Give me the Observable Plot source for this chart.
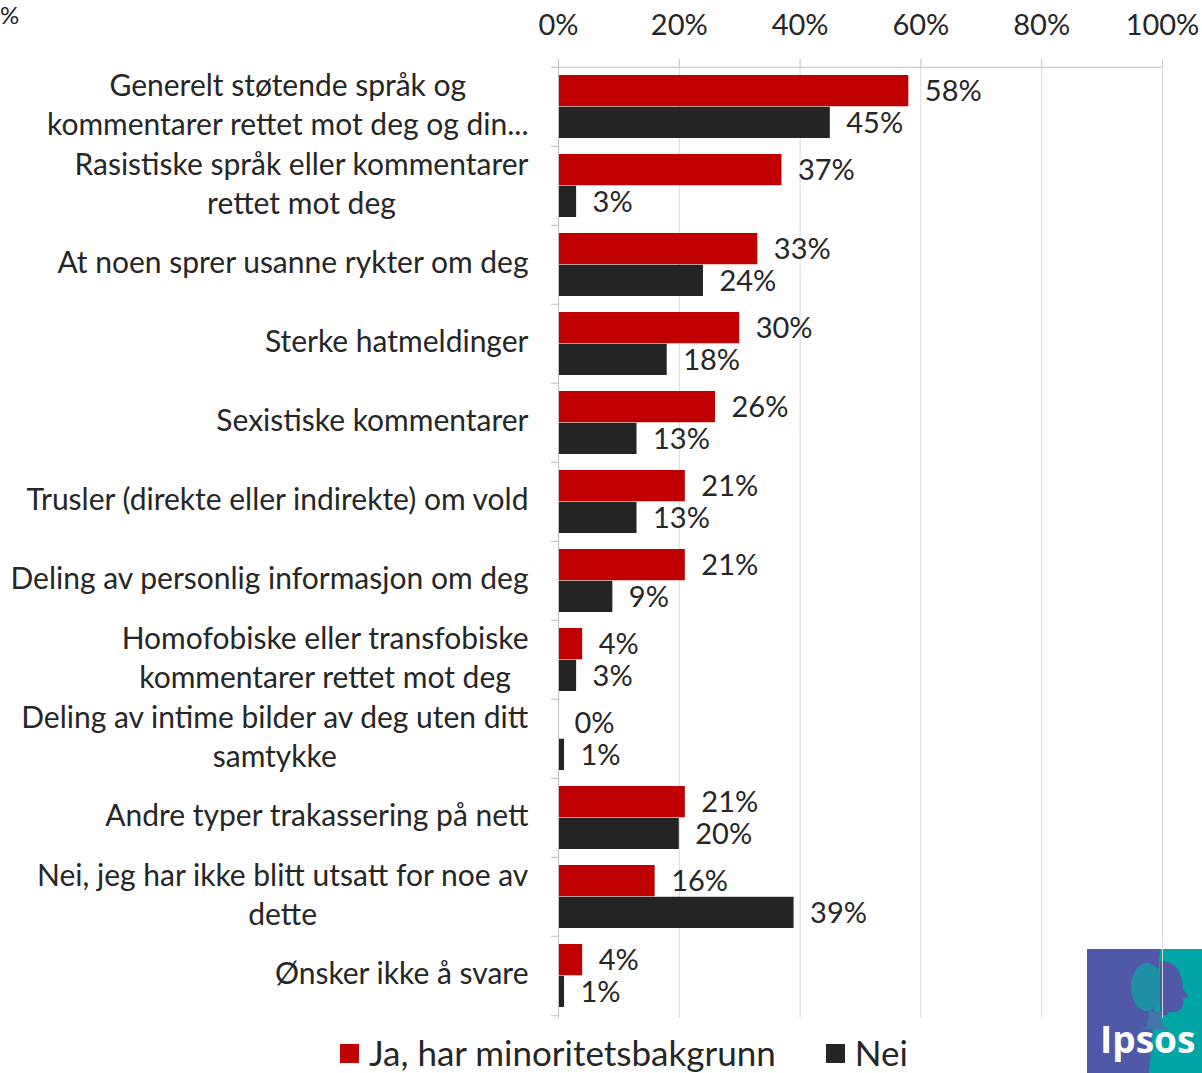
<!DOCTYPE html>
<html>
<head>
<meta charset="utf-8">
<script src="https://cdn.jsdelivr.net/npm/d3@7"></script>
<script src="https://cdn.jsdelivr.net/npm/@observablehq/plot@0.6"></script>
<style>
  html, body { margin: 0; padding: 0; background: #fff; }
  #wrap { position: relative; width: 1202px; height: 1073px; overflow: hidden; font-family: Lato, "Open Sans", sans-serif; color: #262626; }
  #chart { position: absolute; left: 0; top: 0; z-index: 2; }
  #chart svg { background: transparent !important; }
  #pct { position: absolute; left: 0px; top: 2px; font-size: 24px; line-height: 26px; z-index: 3; }
  #legend { position: absolute; left: 340px; top: 1034px; height: 36px; display: flex; align-items: center; font-size: 35px; line-height: 36px; z-index: 3; white-space: nowrap; }
  #legend .item { display: flex; align-items: center; margin-right: 50px; }
  #legend .sw { width: 19px; height: 19px; margin-right: 10px; margin-top: 2px; }
  #logo { position: absolute; left: 1087px; top: 949px; width: 115px; height: 124px; z-index: 1; }
</style>
</head>
<body>
<div id="wrap">
  <div id="pct">%</div>
  <div id="chart"></div>
  <div id="legend"></div>
  <svg id="logo" viewBox="0 0 115 124" width="115" height="124">
    <rect x="0" y="0" width="115" height="124" fill="#5059a8"/>
    <polygon points="73,0 115,0 115,124 62,124" fill="#00a6a4"/>
    <ellipse cx="60" cy="38" rx="16" ry="24" fill="#1f8fa6"/>
    <path d="M73,12 Q92,12 95,32 L96,40 L101,47 L96,50 Q97,58 93,61 Q88,64 82,63 L80,66 L73,66 Z" fill="#5059a8"/>
    <path d="M62,62 L74,62 L76,78 L84,80 L52,80 L60,78 Z" fill="#3f77a8"/>
    <text x="13" y="104" fill="#fff" font-family="'Open Sans', sans-serif" font-weight="bold" font-size="37">Ipsos</text>
  </svg>
</div>
<script>
const categories = [
  "Generelt støtende språk og kommentarer rettet mot deg og din...",
  "Rasistiske språk eller kommentarer rettet mot deg",
  "At noen sprer usanne rykter om deg",
  "Sterke hatmeldinger",
  "Sexistiske kommentarer",
  "Trusler (direkte eller indirekte) om vold",
  "Deling av personlig informasjon om deg",
  "Homofobiske eller transfobiske kommentarer rettet mot deg",
  "Deling av intime bilder av deg uten ditt samtykke",
  "Andre typer trakassering på nett",
  "Nei, jeg har ikke blitt utsatt for noe av dette",
  "Ønsker ikke å svare"
];
const categoryLabels = [
  "Generelt støtende språk og\nkommentarer rettet mot deg og din...",
  "Rasistiske språk eller kommentarer\nrettet mot deg",
  "At noen sprer usanne rykter om deg",
  "Sterke hatmeldinger",
  "Sexistiske kommentarer",
  "Trusler (direkte eller indirekte) om vold",
  "Deling av personlig informasjon om deg",
  "Homofobiske eller transfobiske\nkommentarer rettet mot deg",
  "Deling av intime bilder av deg uten ditt\nsamtykke",
  "Andre typer trakassering på nett",
  "Nei, jeg har ikke blitt utsatt for noe av\ndette",
  "Ønsker ikke å svare"
];
const seriesNames = ["Ja, har minoritetsbakgrunn", "Nei"];
const jaValues = [58, 37, 33, 30, 26, 21, 21, 4, 0, 21, 16, 4];
const neiValues = [45, 3, 24, 18, 13, 13, 9, 3, 1, 20, 39, 1];
const xTicks = [0, 20, 40, 60, 80, 100];
const seriesColors = ["#c00000", "#242424"];

const labelOf = new Map(categories.map((c, i) => [c, categoryLabels[i]]));
const jaRows = categories.map((c, i) => ({cat: c, series: seriesNames[0], value: jaValues[i]}));
const neiRows = categories.map((c, i) => ({cat: c, series: seriesNames[1], value: neiValues[i]}));

const W = 1202, H = 1030, MT = 65, MB = 12, ML = 558, MR = 40;
const padIn = 0.2, padOut = 0.1;
const step = (H - MT - MB) / categories.length;
const bw = step * (1 - padIn);
const FS = 29, LFS = 30;

const plot = Plot.plot({
  width: W, height: H,
  marginTop: MT, marginBottom: MB, marginLeft: ML, marginRight: MR,
  style: {fontFamily: "Lato, 'Open Sans', sans-serif", fontSize: FS + "px", color: "#262626", background: "transparent"},
  x: {domain: [0, 100]},
  y: {domain: categories, paddingInner: padIn, paddingOuter: padOut},
  color: {domain: seriesNames, range: seriesColors},
  marks: [
    Plot.gridX(xTicks.slice(1), {stroke: "#d9d9d9", strokeOpacity: 1}),
    Plot.barX(jaRows, {x: "value", y: "cat", fill: "series", insetBottom: bw / 2}),
    Plot.barX(neiRows, {x: "value", y: "cat", fill: "series", insetTop: bw / 2}),
    Plot.text(jaRows, {x: "value", y: "cat", text: d => d.value + "%", dx: 16, dy: -bw / 4 + 1, textAnchor: "start", fill: "#262626", fontSize: FS}),
    Plot.text(neiRows, {x: "value", y: "cat", text: d => d.value + "%", dx: 16, dy: bw / 4 + 1, textAnchor: "start", fill: "#262626", fontSize: FS}),
    Plot.ruleX([0], {stroke: "#bfbfbf"}),
    Plot.ruleY(categories, {y: d => d, x1: 0, x2: 0, insetLeft: -7, dy: -step / 2, stroke: "#bfbfbf"}),
    Plot.ruleY(categories.slice(-1), {y: d => d, x1: 0, x2: 0, insetLeft: -7, dy: step / 2, stroke: "#bfbfbf"}),
    Plot.ruleY(categories.slice(0, 1), {y: d => d, x1: 0, x2: 100, dy: -step / 2, stroke: "#bfbfbf"}),
    Plot.axisX(xTicks, {anchor: "top", tickSize: 7, tickPadding: 24, tickFormat: d => d + "%", stroke: "#bfbfbf", fill: "#262626", fontSize: FS, label: null}),
    Plot.axisY({tickSize: 0, tickPadding: 30, dy: -4, tickFormat: d => labelOf.get(d), fill: "#262626", fontSize: LFS, lineHeight: 1.3, label: null})
  ]
});
document.getElementById("chart").appendChild(plot);

// center multi-line category labels (as in the original chart)
plot.querySelectorAll('g[aria-label="y-axis tick label"] text').forEach(t => {
  const spans = t.querySelectorAll("tspan");
  if (spans.length > 1) {
    const w = t.getBBox().width;
    t.setAttribute("text-anchor", "middle");
    spans.forEach(s => s.setAttribute("x", -w / 2));
  }
});

const legend = document.getElementById("legend");
seriesNames.forEach((n, i) => {
  const it = document.createElement("div");
  it.className = "item";
  const sw = document.createElement("div");
  sw.className = "sw";
  sw.style.background = seriesColors[i];
  const tx = document.createElement("span");
  tx.textContent = n;
  it.appendChild(sw); it.appendChild(tx);
  legend.appendChild(it);
});
</script>
</body>
</html>
